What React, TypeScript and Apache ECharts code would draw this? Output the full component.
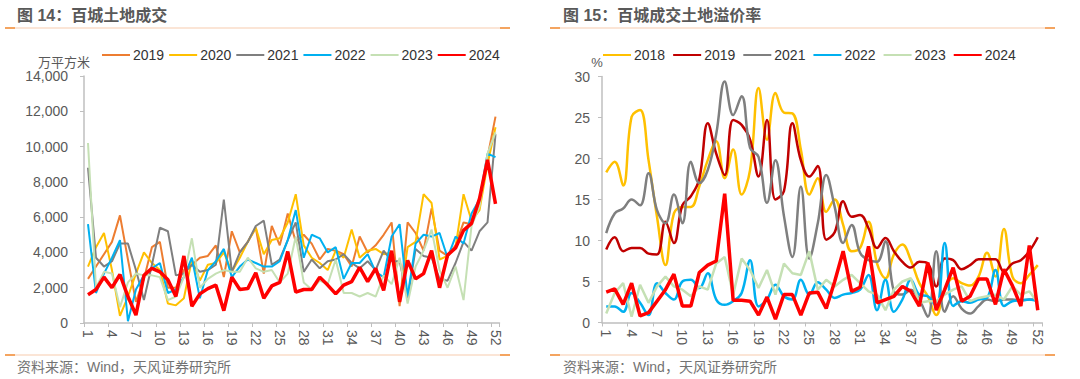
import React, { useEffect, useRef } from "react";
import * as echarts from "echarts";

const weeks = ["1","2","3","4","5","6","7","8","9","10","11","12","13","14","15","16","17","18","19","20","21","22","23","24","25","26","27","28","29","30","31","32","33","34","35","36","37","38","39","40","41","42","43","44","45","46","47","48","49","50","51","52"];

// 图14 百城土地成交 (万平方米)
const land2019 = [2500, 3200, 3900, 4600, 6100, 3600, 1200, 2500, 4300, 4600, 2000, 2000, 3000, 3300, 3700, 3800, 4400, 2600, 5200, 4000, 4600, 5400, 2800, 5500, 4400, 6200, 4600, 5000, 4500, 3600, 4200, 4100, 3900, 3200, 4900, 4000, 4400, 5000, 5700, 950, 5700, 5100, 4100, 6500, 4100, 3800, 4400, 5700, 5600, 6800, 9400, 11700];
const land2020 = [3200, 4300, 5100, 3000, 400, 1500, 2800, 4000, 3400, 3000, 1100, 1000, 1400, 3600, 2400, 3300, 3400, 4000, 2900, 3700, 4600, 5400, 3900, 4700, 4800, 5700, 7300, 4400, 3700, 3400, 3000, 4100, 3700, 5300, 3700, 4100, 4200, 3900, 4000, 1200, 4300, 4600, 7300, 6800, 3600, 3800, 4300, 7300, 5800, 6400, 9000, 11100];
const land2021 = [8800, 3700, 3200, 3500, 4500, 4500, 3000, 1300, 3300, 5400, 5200, 2700, 2800, 3300, 2900, 3000, 3300, 7000, 2900, 4000, 4600, 5500, 5800, 3300, 3600, 4700, 5700, 2900, 3600, 3100, 3500, 3600, 3900, 3400, 3100, 3500, 3000, 4100, 3500, 3500, 1400, 4200, 3800, 3700, 2500, 2400, 3400, 4600, 4100, 5200, 5700, 10700];
const land2022 = [5600, 1700, 2800, 3700, 4700, 100, 1900, 2700, 3100, 3400, 1700, 1900, 2600, 3700, 1400, 3000, 3500, 4200, 2600, 3200, 3600, 3400, 3200, 3200, 3500, 4700, 6400, 3700, 5000, 4800, 4000, 4300, 2500, 3400, 3400, 3900, 2900, 2600, 4900, 5600, 1500, 4500, 5000, 4900, 5100, 3700, 4900, 4500, 6200, 7000, 9600, 9400];
const land2023 = [10200, 2000, 2900, 2800, 900, 2300, 2800, 2700, 2700, 2600, 1300, 1500, 2600, 4800, 2000, 2500, 2800, 3000, 2900, 2900, 3700, 3100, 2900, 3000, 2300, 2800, 4900, 2300, 1900, 2400, 2200, 3600, 1700, 1700, 1500, 1700, 1500, 2700, 2200, 3700, 1100, 3200, 4100, 5300, 3000, 2000, 3200, 1300, 5500, 6600, 9600, 10800];
const land2024 = [1600, 1900, 2600, 2000, 2750, 1500, 450, 2700, 3100, 2900, 2450, 1500, 3800, 950, 1650, 1950, 2150, 700, 2600, 1900, 1950, 2850, 1400, 2100, 2300, 4050, 1750, 1900, 1900, 2600, 2150, 1650, 2150, 2350, 3150, 2350, 3100, 1850, 4100, 1200, 3550, 2500, 2800, 4100, 2000, 3850, 4250, 5250, 5650, 7050, 9250, 6750];

// 图15 百城成交土地溢价率 (%)
const prem2018 = [18.3, 19.6, 16.7, 25.1, 25.9, 19.8, 12.9, 7.0, 13.3, 14.1, 14.1, 16.6, 19.8, 22.1, 17.6, 21.1, 15.6, 18.6, 28.6, 22.3, 28.0, 25.6, 25.5, 21.1, 15.6, 17.6, 13.5, 15.0, 11.9, 8.7, 9.1, 12.3, 7.2, 5.4, 8.3, 9.5, 7.6, 4.8, 3.2, 0.9, 4.0, 5.4, 4.8, 4.5, 5.6, 8.5, 5.6, 11.4, 5.6, 4.8, 5.8, 7.0];
const prem2019 = [8.9, 10.4, 8.7, 9.1, 9.1, 8.4, 8.3, 12.3, 9.7, 14.3, 15.4, 17.5, 24.3, 20.6, 18.0, 24.7, 24.1, 22.3, 17.8, 24.7, 15.0, 16.0, 24.3, 19.8, 17.8, 19.1, 10.1, 11.0, 14.8, 12.9, 13.1, 11.5, 9.1, 10.3, 8.7, 7.4, 6.7, 7.4, 7.2, 4.4, 7.8, 7.6, 6.5, 7.0, 7.7, 7.7, 7.7, 6.2, 7.2, 7.6, 8.7, 10.4];
const prem2021 = [10.9, 13.3, 13.9, 15.0, 14.3, 18.2, 13.7, 12.1, 15.6, 12.1, 19.6, 17.0, 18.6, 23.0, 29.4, 25.3, 27.6, 21.3, 20.2, 14.6, 19.8, 13.0, 8.0, 16.6, 7.8, 12.1, 18.0, 14.1, 9.7, 11.9, 8.5, 7.6, 7.4, 9.9, 3.8, 3.4, 4.0, 2.8, 0.7, 8.7, 1.3, 3.2, 1.7, 1.1, 2.0, 2.8, 2.6, 2.8, 2.8, 2.7, 2.8, 2.8];
const prem2022 = [1.95, 1.95, 1.3, 3.6, 2.4, 0.9, 4.8, 3.6, 2.8, 5.0, 5.2, 4.2, 6.0, 2.8, 2.15, 2.6, 3.6, 7.6, 1.95, 2.8, 4.6, 3.2, 2.8, 5.2, 3.4, 4.9, 4.0, 3.0, 3.4, 3.6, 4.0, 5.8, 1.5, 5.2, 1.3, 2.8, 5.2, 3.4, 3.2, 2.0, 9.7, 2.0, 2.6, 2.4, 2.8, 3.0, 6.4, 2.0, 2.6, 2.7, 2.8, 2.6];
const prem2023 = [1.1, 3.6, 4.8, 0.7, 4.6, 2.4, 4.4, 5.6, 4.4, 4.0, 3.2, 4.4, 4.0, 7.2, 8.0, 3.4, 7.8, 6.4, 4.2, 6.4, 3.4, 7.2, 6.0, 5.8, 8.7, 4.0, 5.2, 4.4, 5.2, 5.8, 4.8, 3.8, 3.4, 1.5, 4.0, 5.0, 5.4, 2.4, 2.6, 2.6, 3.4, 4.0, 4.4, 2.6, 3.0, 3.2, 3.4, 2.8, 4.4, 3.4, 3.8, 2.4];
const prem2024 = [3.7, 4.1, 2.2, 4.8, 0.8, 1.2, 2.6, 4.0, 5.9, 2.0, 2.0, 6.1, 7.0, 7.5, 15.7, 2.7, 2.7, 2.6, 0.9, 3.1, 0.4, 3.4, 3.4, 0.9, 3.6, 3.7, 1.7, 5.0, 8.7, 3.8, 4.3, 9.3, 2.4, 2.8, 3.2, 4.4, 3.8, 2.0, 7.3, 1.5, 4.0, 6.7, 2.6, 3.2, 5.3, 5.3, 2.2, 6.5, 4.5, 2.0, 9.4, 1.5];

const FONT = "'Liberation Sans', Arial, 'Noto Sans CJK SC', sans-serif";
const AXIS_COLOR = "#BFBFBF";
const LABEL_COLOR = "#595959";

type SeriesDef = { name: string; data: number[]; color: string; width: number; smooth: boolean };

function buildOption(p: {
  title: string;
  unit: string;
  unitX: number;
  legendLeft: number;
  legendGap: number;
  gridLeft: number;
  gridWidth: number;
  gridTop: number;
  gridHeight: number;
  yMax: number;
  yInterval: number;
  yFormatter: (v: number) => string;
  yLabelMargin: number;
  lineX0: number;
  lineX1: number;
  textX: number;
  series: SeriesDef[];
}) {
  const sepLine = (y: number) => [
    { type: "line", shape: { x1: p.lineX0, y1: y, x2: p.lineX1, y2: y }, style: { stroke: "#F8CBAD", lineWidth: 1.2 } },
    { type: "rect", shape: { x: p.lineX0, y: y - 1, width: 10, height: 2 }, style: { fill: "#F4A460" } },
    { type: "rect", shape: { x: p.lineX1 - 10, y: y - 1, width: 10, height: 2 }, style: { fill: "#F4A460" } },
  ];
  return {
    animation: false,
    textStyle: { fontFamily: FONT },
    graphic: [
      {
        type: "text",
        left: p.textX,
        top: 7,
        style: { text: p.title, font: `bold 16px ${FONT}`, fill: "#595959" },
      },
      ...sepLine(28),
      ...sepLine(355),
      {
        type: "text",
        left: p.textX,
        top: 360,
        style: { text: "资料来源：Wind，天风证券研究所", font: `14px ${FONT}`, fill: "#737373" },
      },
      {
        type: "text",
        x: p.unitX,
        y: 62,
        style: { text: p.unit, font: `13px ${FONT}`, fill: LABEL_COLOR, align: "center", verticalAlign: "middle" },
      },
    ],
    legend: {
      left: p.legendLeft,
      top: 43,
      itemWidth: 28,
      itemHeight: 14,
      itemGap: p.legendGap,
      itemStyle: { opacity: 0, borderWidth: 0 },
      textStyle: { fontSize: 14, color: "#333", fontFamily: FONT, padding: [0, 0, 0, -2] },
      data: p.series.map((s) => s.name),
    },
    grid: { left: p.gridLeft, top: p.gridTop, width: p.gridWidth, height: p.gridHeight, containLabel: false },
    xAxis: {
      type: "category",
      data: weeks,
      boundaryGap: true,
      axisLine: { lineStyle: { color: AXIS_COLOR, width: 1.5 } },
      axisTick: { show: true, interval: 2, length: 4, lineStyle: { color: AXIS_COLOR } },
      axisLabel: { interval: 2, rotate: -90, fontSize: 14, color: LABEL_COLOR, margin: 7, fontFamily: FONT },
      splitLine: { show: false },
    },
    yAxis: {
      type: "value",
      min: 0,
      max: p.yMax,
      interval: p.yInterval,
      axisLine: { show: true, lineStyle: { color: AXIS_COLOR, width: 1.5 } },
      axisTick: { show: true, length: 4, lineStyle: { color: AXIS_COLOR } },
      axisLabel: { fontSize: 14, color: LABEL_COLOR, margin: p.yLabelMargin, formatter: p.yFormatter, fontFamily: FONT },
      splitLine: { show: false },
    },
    series: p.series.map((s) => ({
      name: s.name,
      type: "line",
      data: s.data,
      symbol: "none",
      smooth: s.smooth ? 0.4 : false,
      z: s.name === "2024" ? 10 : 2,
      lineStyle: { color: s.color, width: s.width },
      itemStyle: { color: s.color },
    })),
  };
}

const fmtThousands = (v: number) => String(v).replace(/\B(?=(\d{3})+(?!\d))/g, ",");

const leftOption = buildOption({
  title: "图 14：百城土地成交",
  unit: "万平方米",
  unitX: 64,
  legendLeft: 96,
  legendGap: 4,
  gridLeft: 84,
  gridWidth: 415.5,
  gridTop: 76,
  gridHeight: 247,
  yMax: 14000,
  yInterval: 2000,
  yFormatter: fmtThousands,
  yLabelMargin: 16,
  lineX0: 5,
  lineX1: 510,
  textX: 17,
  series: [
    { name: "2019", data: land2019, color: "#ED7D31", width: 2, smooth: false },
    { name: "2020", data: land2020, color: "#FFC000", width: 2, smooth: false },
    { name: "2021", data: land2021, color: "#7F7F7F", width: 2, smooth: false },
    { name: "2022", data: land2022, color: "#00B0F0", width: 2, smooth: false },
    { name: "2023", data: land2023, color: "#C5E0B4", width: 2, smooth: false },
    { name: "2024", data: land2024, color: "#FF0000", width: 3.5, smooth: false },
  ],
});

const rightOption = buildOption({
  title: "图 15：百城成交土地溢价率",
  unit: "%",
  unitX: 57,
  legendLeft: 57,
  legendGap: 7,
  gridLeft: 62,
  gridWidth: 440,
  gridTop: 76.5,
  gridHeight: 246,
  yMax: 30,
  yInterval: 5,
  yFormatter: (v: number) => String(v),
  yLabelMargin: 12,
  lineX0: 10,
  lineX1: 515,
  textX: 23,
  series: [
    { name: "2018", data: prem2018, color: "#FFC000", width: 2.5, smooth: true },
    { name: "2019", data: prem2019, color: "#C00000", width: 2.5, smooth: true },
    { name: "2021", data: prem2021, color: "#7F7F7F", width: 2.5, smooth: true },
    { name: "2022", data: prem2022, color: "#00B0F0", width: 2.5, smooth: true },
    { name: "2023", data: prem2023, color: "#C5E0B4", width: 2.5, smooth: false },
    { name: "2024", data: prem2024, color: "#FF0000", width: 3.5, smooth: false },
  ],
});

function Panel({ option, left }: { option: any; left: number }) {
  const ref = useRef<HTMLDivElement>(null);
  useEffect(() => {
    if (!ref.current) return;
    const chart = echarts.init(ref.current, undefined, { renderer: "svg" });
    chart.setOption(option);
    return () => chart.dispose();
  }, [option]);
  return <div ref={ref} style={{ position: "absolute", left, top: 0, width: 540, height: 379 }} />;
}

export default function App() {
  return (
    <div style={{ position: "fixed", left: 0, top: 0, width: 1080, height: 379, background: "#fff", overflow: "hidden" }}>
      <Panel option={leftOption} left={0} />
      <Panel option={rightOption} left={540} />
    </div>
  );
}
